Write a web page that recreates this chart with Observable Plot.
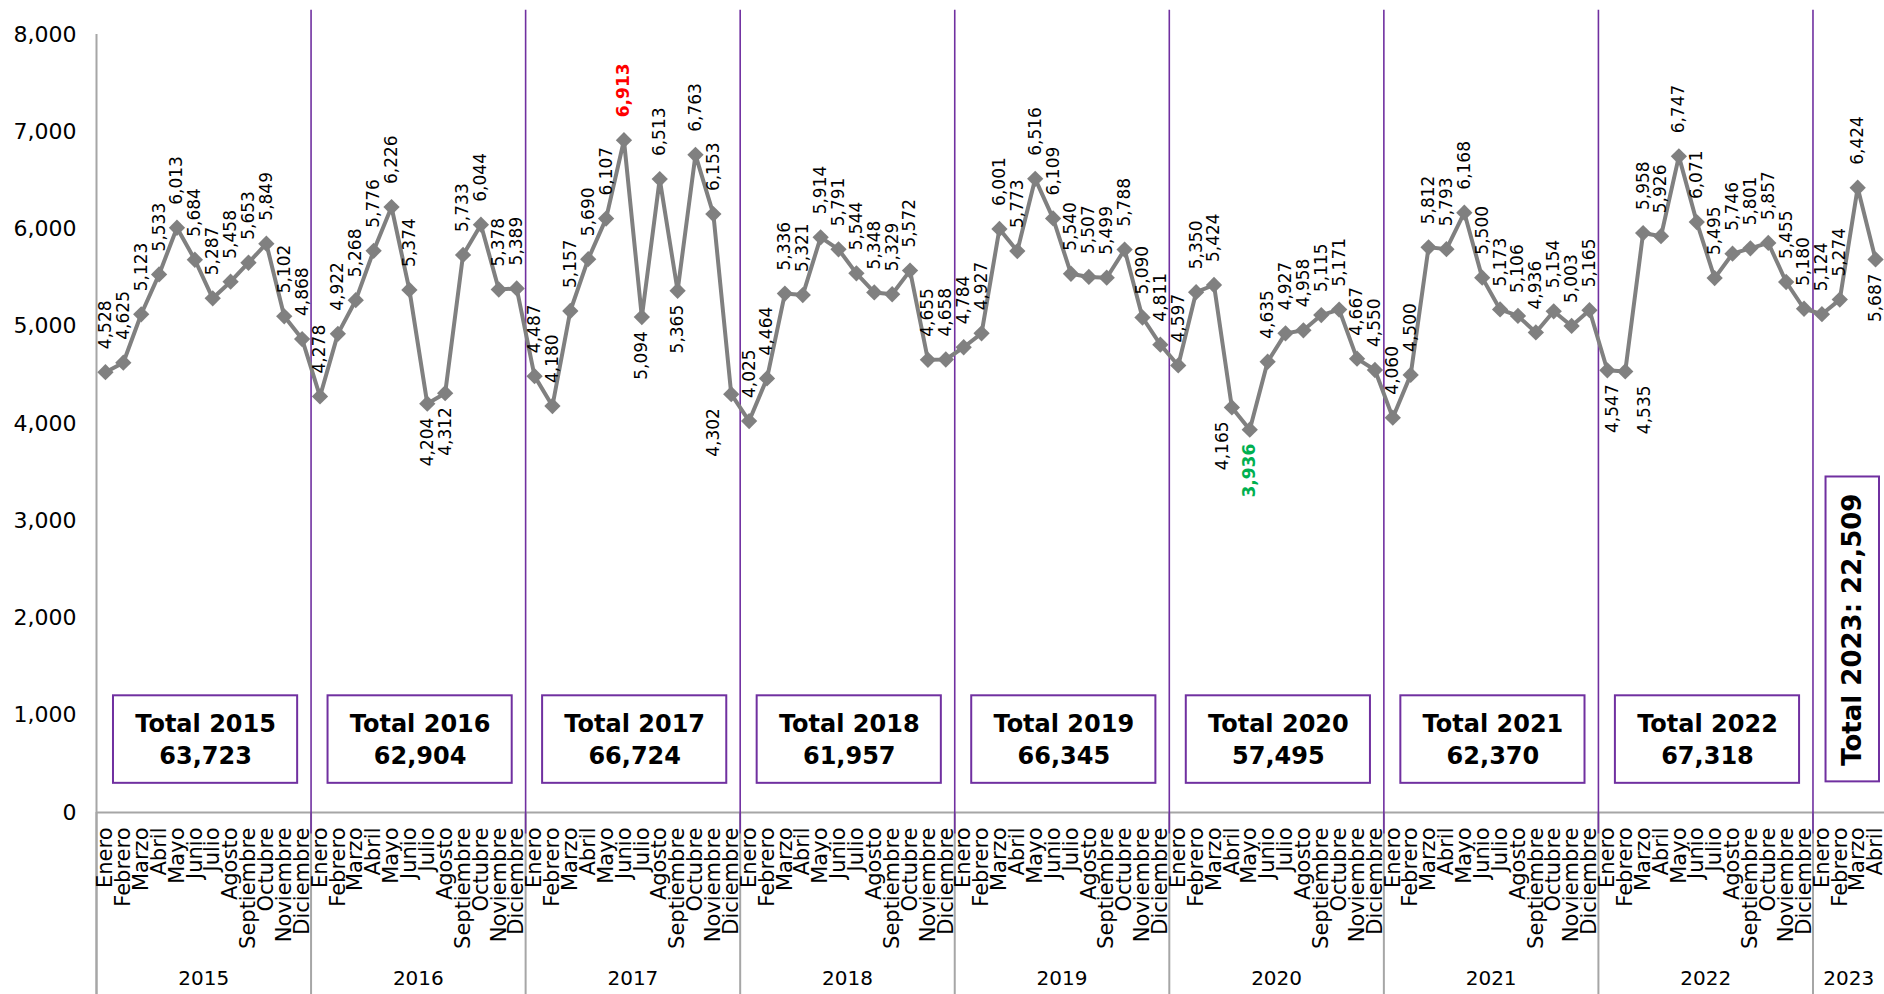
<!DOCTYPE html>
<html>
<head>
<meta charset="utf-8">
<script src="https://cdn.jsdelivr.net/npm/d3@7"></script>
<script src="https://cdn.jsdelivr.net/npm/@observablehq/plot@0.6"></script>
<style>
  html, body { margin: 0; padding: 0; background: #fff; overflow: hidden; }
  #chart svg { display: block; }
</style>
</head>
<body>
<div id="chart"></div>
<script>
// ---------- data ----------
const years = [2015, 2016, 2017, 2018, 2019, 2020, 2021, 2022, 2023];
const months = ["Enero", "Febrero", "Marzo", "Abril", "Mayo", "Junio", "Julio",
                "Agosto", "Septiembre", "Octubre", "Noviembre", "Diciembre"];
const v2015 = [4528, 4625, 5123, 5533, 6013, 5684, 5287, 5458, 5653, 5849, 5102, 4868];
const v2016 = [4278, 4922, 5268, 5776, 6226, 5374, 4204, 4312, 5733, 6044, 5378, 5389];
const v2017 = [4487, 4180, 5157, 5690, 6107, 6913, 5094, 6513, 5365, 6763, 6153, 4302];
const v2018 = [4025, 4464, 5336, 5321, 5914, 5791, 5544, 5348, 5329, 5572, 4655, 4658];
const v2019 = [4784, 4927, 6001, 5773, 6516, 6109, 5540, 5507, 5499, 5788, 5090, 4811];
const v2020 = [4597, 5350, 5424, 4165, 3936, 4635, 4927, 4958, 5115, 5171, 4667, 4550];
const v2021 = [4060, 4500, 5812, 5793, 6168, 5500, 5173, 5106, 4936, 5154, 5003, 5165];
const v2022 = [4547, 4535, 5958, 5926, 6747, 6071, 5495, 5746, 5801, 5857, 5455, 5180];
const v2023 = [5124, 5274, 6424, 5687];
const yTicks = [0, 1000, 2000, 3000, 4000, 5000, 6000, 7000, 8000];

// ---------- label placement (style, not data) ----------
// labels drawn below their point; value = horizontal shift in month units
const labelsBelow = {
  "2016-6": 0, "2016-7": 0,
  "2017-6": 0, "2017-8": 0, "2017-11": -1.0,
  "2020-3": -0.5, "2020-4": 0,
  "2022-0": 0.3, "2022-1": 1.1,
  "2023-3": 0
};

// ---------- build table ----------
const series = [v2015, v2016, v2017, v2018, v2019, v2020, v2021, v2022, v2023];
const rows = [];
const yearInfo = [];
series.forEach((vals, yi) => {
  yearInfo.push({year: years[yi], start: rows.length, n: vals.length, total: d3.sum(vals)});
  vals.forEach((v, m) => {
    const key = `${years[yi]}-${m}`;
    rows.push({
      i: rows.length, year: years[yi], month: m, value: v,
      below: key in labelsBelow,
      shift: key in labelsBelow ? labelsBelow[key] : 0
    });
  });
});
const N = rows.length;
const vmax = d3.max(rows, d => d.value);
const vmin = d3.min(rows, d => d.value);
const fmt = d3.format(",");
const isHi = d => d.value === vmax || d.value === vmin;
const hiColor = d => d.value === vmax ? "#FF0000" : "#00B050";

const fullYears = yearInfo.filter(d => d.n === 12);
const partYears = yearInfo.filter(d => d.n < 12);
const boundaries = yearInfo.slice(1).map(d => d.start);
const allBounds = yearInfo.map(d => d.start);

const PURPLE = "#7030A0";
const GRAY = "#808080";
const AXIS = "#A6A6A6";

const chart = Plot.plot({
  width: 1884,
  height: 994,
  marginTop: 34,
  marginBottom: 182,
  marginLeft: 96,
  marginRight: 0,
  style: {fontFamily: "'DejaVu Sans', sans-serif", background: "#fff", color: "#000", overflow: "visible"},
  x: {type: "linear", domain: [0, N], range: [96, 1884]},
  y: {domain: [0, 8000]},
  marks: [
    // year separators below the baseline
    Plot.ruleX(allBounds, {x: d => d, y1: -1900, y2: 0, stroke: AXIS, strokeWidth: 2}),
    // left axis line
    Plot.ruleX([0], {y1: -1900, y2: 8000, stroke: AXIS, strokeWidth: 2}),
    // baseline
    Plot.ruleY([0], {x1: 0, x2: N + 1, stroke: AXIS, strokeWidth: 2}),
    // purple year separators
    Plot.ruleX(boundaries, {x: d => d, y1: -220, y2: 8250, stroke: PURPLE, strokeWidth: 1.6}),
    // y axis
    Plot.axisY(yTicks, {tickFormat: d3.format(","), tickSize: 0, tickPadding: 20, fontSize: 22, label: null, fill: "#000"}),
    // month axis
    Plot.axisX(rows.map(d => d.i + 0.5), {
      tickFormat: v => months[rows[Math.floor(v)].month],
      tickRotate: -90, tickSize: 0, tickPadding: 15, fontSize: 21,
      textAnchor: "end", label: null, fill: "#000"
    }),
    // year labels
    Plot.text(yearInfo, {x: d => d.start + d.n / 2, frameAnchor: "bottom", dy: 172,
      text: d => String(d.year), fontSize: 20, fill: "#000"}),
    // total boxes (full years)
    Plot.rect(fullYears, {x1: d => d.start + 0.95, x2: d => d.start + 11.25, y1: 300, y2: 1200,
      fill: "#fff", stroke: PURPLE, strokeWidth: 2}),
    Plot.text(fullYears, {x: d => d.start + 6.1, y: 765, text: d => `Total ${d.year}\n${fmt(d.total)}`,
      fontSize: 24, fontWeight: "bold", lineHeight: 1.3, fill: "#000"}),
    // partial-year box (vertical)
    Plot.rect(partYears, {x1: d => d.start + 0.73, x2: d => d.start + 3.72, y1: 315, y2: 3450,
      fill: "#fff", stroke: PURPLE, strokeWidth: 2}),
    Plot.text(partYears, {x: d => d.start + 2.2, y: 1880, rotate: -90,
      text: d => `Total ${d.year}: ${fmt(d.total)}`, fontSize: 26, fontWeight: "bold", fill: "#000"}),
    // series line
    Plot.line(rows, {x: d => d.i + 0.5, y: "value", stroke: GRAY, strokeWidth: 4}),
    // diamond markers
    Plot.dot(rows, {x: d => d.i + 0.5, y: "value", symbol: "square", rotate: 45, r: 6.5, fill: GRAY, stroke: "none"}),
    // value labels above
    Plot.text(rows.filter(d => !d.below && !isHi(d)), {x: d => d.i + 0.5 + d.shift, y: "value", text: d => fmt(d.value),
      rotate: -90, textAnchor: "start", dy: -23, fontSize: 17, fill: "#000"}),
    Plot.text(rows.filter(d => !d.below && isHi(d)), {x: d => d.i + 0.5 + d.shift, y: "value", text: d => fmt(d.value),
      rotate: -90, textAnchor: "start", dy: -23, fontSize: 17, fontWeight: "bold", fill: hiColor}),
    // value labels below
    Plot.text(rows.filter(d => d.below && !isHi(d)), {x: d => d.i + 0.5 + d.shift, y: "value", text: d => fmt(d.value),
      rotate: -90, textAnchor: "end", dy: 14, fontSize: 17, fill: "#000"}),
    Plot.text(rows.filter(d => d.below && isHi(d)), {x: d => d.i + 0.5 + d.shift, y: "value", text: d => fmt(d.value),
      rotate: -90, textAnchor: "end", dy: 14, fontSize: 17, fontWeight: "bold", fill: hiColor})
  ]
});
document.getElementById("chart").appendChild(chart);
</script>
</body>
</html>
